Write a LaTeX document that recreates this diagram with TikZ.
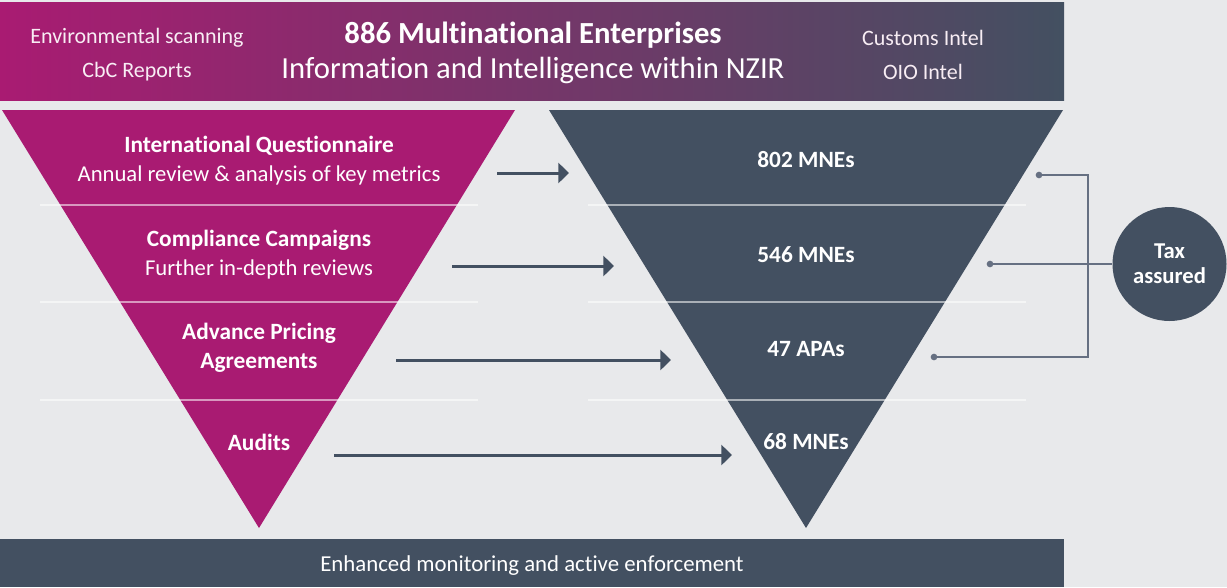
\documentclass[tikz,border=0pt]{standalone}
\usepackage{fontspec}
\setmainfont[Ligatures=NoCommon]{Carlito}
\usetikzlibrary{arrows.meta}
\definecolor{mag}{HTML}{A91B72}
\definecolor{slate}{HTML}{435061}
\definecolor{bg}{HTML}{E8E9EB}
\definecolor{brk}{HTML}{667082}
\begin{document}
\begin{tikzpicture}[x=0.75pt,y=-0.75pt,
  txt/.style={text=white, inner sep=0pt, align=center},
  hdr/.style={txt, font=\fontsize{23}{26}\selectfont},
  bhdr/.style={txt, font=\bfseries\fontsize{23}{26}\selectfont},
  side/.style={txt, font=\fontsize{16.5}{20}\selectfont, text=white!92!mag},
  lbl/.style={txt, font=\fontsize{17}{22}\selectfont},
  blbl/.style={txt, font=\bfseries\fontsize{17.5}{22}\selectfont},
  flow/.style={slate, line width=2.25pt, -{Triangle[length=8pt,width=15pt]}},
  sep/.style={white, opacity=0.55, line width=1.3pt},
  brack/.style={brk, line width=1.3pt},
  dot/.style={circle, fill=brk, inner sep=0pt, minimum size=5pt},
]
\useasboundingbox (0,0) rectangle (1227,587);
\fill[bg] (0,0) rectangle (1227,587);
% top banner
\shade[left color=mag, right color=slate] (0,2) rectangle (1064,100);
\node[side] (env) at (137,38) {Environmental scanning};
\node[side] (cbc) at (137,72) {CbC Reports};
\node[bhdr] (title) at (533,35) {886 Multinational Enterprises};
\node[hdr] (sub) at (533,70) {Information and Intelligence within NZIR};
\node[side] (cust) at (923,38) {Customs Intel};
\node[side] (oio) at (923,72) {OIO Intel};
% triangles
\fill[mag] (2,110) -- (515,110) -- (259,528) -- cycle;
\fill[slate] (549,110) -- (1063,110) -- (806,528) -- cycle;
% separators
\foreach \yy in {205,302,400}{
  \draw[sep] (40,\yy) -- (478,\yy);
  \draw[sep] (588,\yy) -- (1026,\yy);
}
% left labels
\node[blbl] (iq) at (259,146) {International Questionnaire};
\node[lbl] (iqs) at (259,175) {Annual review \& analysis of key metrics};
\node[blbl] (cc) at (259,240) {Compliance Campaigns};
\node[lbl] (ccs) at (259,269) {Further in-depth reviews};
\node[blbl] (apa) at (259,348) {Advance Pricing\\Agreements};
\node[blbl] (aud) at (259,442) {Audits};
% right labels
\node[blbl] (r1) at (806,160) {802 MNEs};
\node[blbl] (r2) at (806,255) {546 MNEs};
\node[blbl] (r3) at (806,349) {47 APAs};
\node[blbl] (r4) at (806,442) {68 MNEs};
% arrows
\coordinate (a1s) at (497,173); \coordinate (a1e) at (569,173);
\coordinate (a2s) at (452,266); \coordinate (a2e) at (614,266);
\coordinate (a3s) at (396,360); \coordinate (a3e) at (671,360);
\coordinate (a4s) at (334,455); \coordinate (a4e) at (732,455);
\draw[flow] (a1s) -- (a1e);
\draw[flow] (a2s) -- (a2e);
\draw[flow] (a3s) -- (a3e);
\draw[flow] (a4s) -- (a4e);
% tax assured
\node[circle, fill=slate, minimum size=85.5pt, inner sep=0pt, txt,
      font=\bfseries\fontsize{17}{19}\selectfont] (tax) at (1169.5,264) {Tax\\assured};
\node[dot] (d1) at (1039,175) {};
\node[dot] (d2) at (990,264) {};
\node[dot] (d3) at (934,357) {};
\coordinate (bt) at (1088,175);
\coordinate (bb) at (1088,357);
\draw[brack] (d1.center) -- (bt) -- (bb) -- (d3.center);
\draw[brack] (d2.center) -- (tax.west);
% bottom banner
\fill[slate] (0,539) rectangle (1064,587);
\node[txt, font=\fontsize{17.1}{20}\selectfont] (enh) at (532,566) {Enhanced monitoring and active enforcement};
\end{tikzpicture}
\end{document}
